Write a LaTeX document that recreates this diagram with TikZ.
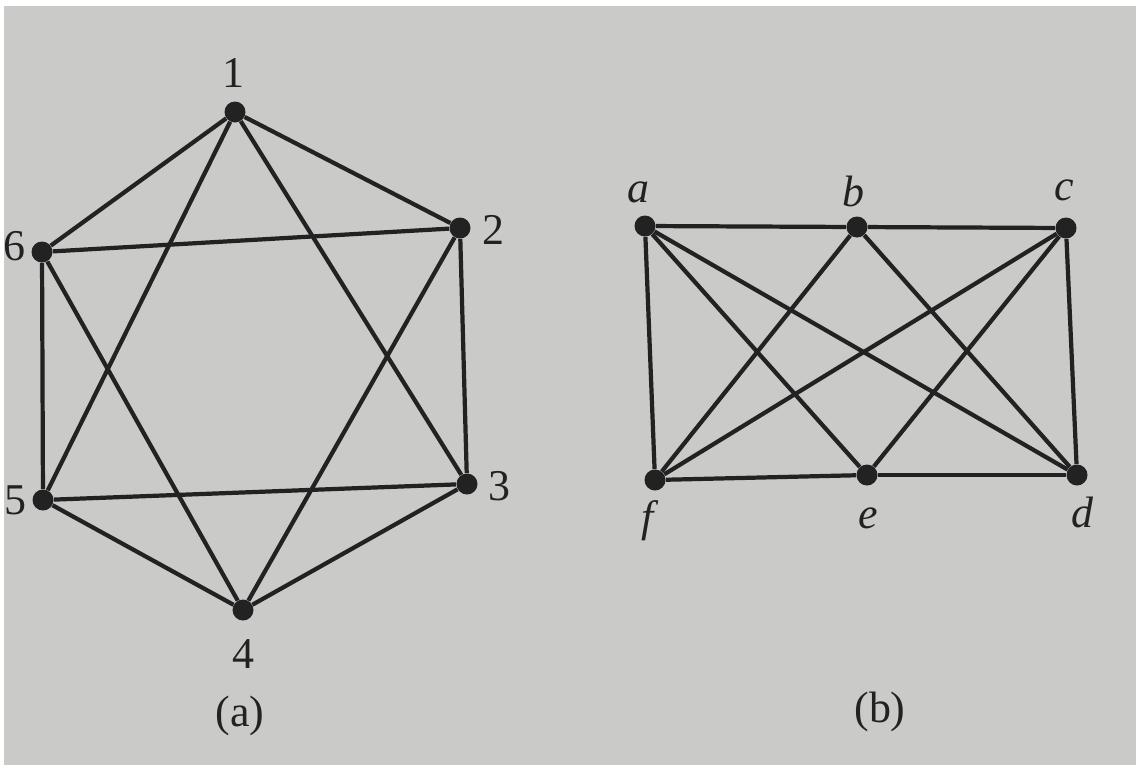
\documentclass[tikz,border=0pt]{standalone}
\usepackage{fontspec}
\setmainfont{Liberation Serif}
\definecolor{paper}{RGB}{202,202,200}
\definecolor{ink}{RGB}{34,34,34}
\begin{document}
\begin{tikzpicture}[x=0.02cm,y=-0.02cm,
  vtx/.style={circle,fill=ink,inner sep=0pt,minimum size=0.42cm},
  edge/.style={draw=ink,line width=2.4pt},
  lbl/.style={font=\fontsize{25}{27}\selectfont,text=ink,inner sep=0pt},
  ilbl/.style={font=\fontsize{25}{27}\selectfont\itshape,text=ink,inner sep=0pt}]
\fill[white] (0,0) rectangle (1136,765);
\fill[paper] (4,6) rectangle (1136,765);
\useasboundingbox (0,0) rectangle (1136,765);
% graph (a)
\node[vtx] (v1) at (235,112) {};
\node[vtx] (v2) at (460,228) {};
\node[vtx] (v3) at (467,484) {};
\node[vtx] (v4) at (243,610) {};
\node[vtx] (v5) at (43,500) {};
\node[vtx] (v6) at (42,252) {};
\foreach \u/\v in {v1/v2,v1/v6,v1/v5,v1/v3,v6/v2,v6/v5,v6/v4,v2/v3,v2/v4,v3/v5,v3/v4,v5/v4}
  \draw[edge] (\u) -- (\v);
\node[lbl] (l1) at (233,73) {1};
\node[lbl] (l2) at (493,230) {2};
\node[lbl] (l3) at (499,486) {3};
\node[lbl] (l4) at (243,654) {4};
\node[lbl] (l5) at (15,500) {5};
\node[lbl] (l6) at (14,246) {6};
\node[lbl] (ca) at (240,716) {(a)};
% graph (b)
\node[vtx] (a) at (645,226) {};
\node[vtx] (b) at (857,227) {};
\node[vtx] (c) at (1066,228) {};
\node[vtx] (d) at (1077,475) {};
\node[vtx] (e) at (867,475) {};
\node[vtx] (f) at (655,480) {};
\foreach \u/\v in {a/b,b/c,c/d,d/e,e/f,f/a,a/e,a/d,b/f,b/d,c/f,c/e}
  \draw[edge] (\u) -- (\v);
\node[ilbl] (la) at (638,192) {a};
\node[ilbl] (lb) at (853,191) {b};
\node[ilbl] (lc) at (1064,190) {c};
\node[ilbl] (ld) at (1082,512) {d};
\node[ilbl] (le) at (868,518) {e};
\node[ilbl] (lf) at (648,521) {f};
\node[lbl] (cb) at (880,712) {(b)};
\end{tikzpicture}
\end{document}
